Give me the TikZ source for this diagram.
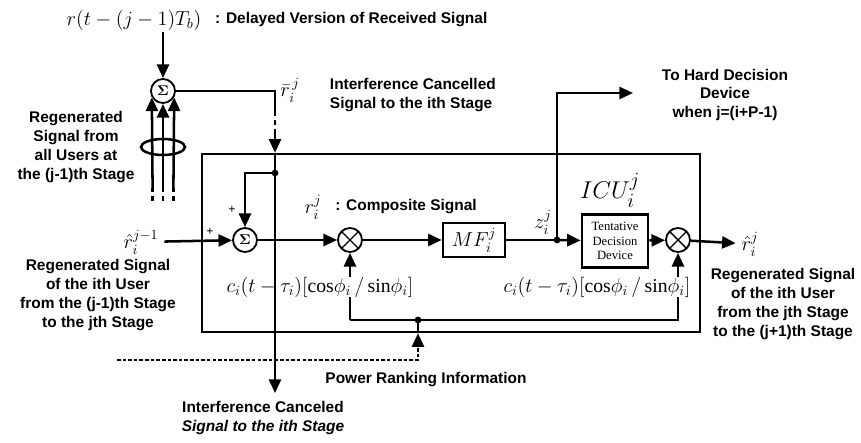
\documentclass[tikz,border=0pt]{standalone}
\usepackage{amsmath}
\usepackage{fontspec}
\setmainfont{Liberation Serif}
\setsansfont{Liberation Sans}
\usetikzlibrary{arrows.meta,positioning}

\begin{document}
\begin{tikzpicture}[>={Triangle[length=3.4mm,width=3mm]}, line width=1.8pt,
  every node/.style={font=\fontsize{14}{16}\selectfont},
  txt/.style={font=\sffamily\bfseries\fontsize{11}{13.5}\selectfont, align=center},
  sum/.style={circle,draw,line width=1.3pt,minimum size=6mm,inner sep=0pt,font=\normalsize},
  mult/.style={circle,draw,line width=1.3pt,minimum size=6mm,inner sep=0pt,
    path picture={\draw[line width=1pt] (path picture bounding box.north west)--(path picture bounding box.south east)
      (path picture bounding box.north east)--(path picture bounding box.south west);}},
  block/.style={draw,minimum width=15.5mm,minimum height=8.5mm,inner sep=1pt}]
\useasboundingbox (0,0) rectangle (21.525,11.05);

% the ICU frame
\node[draw,minimum width=12.45cm,minimum height=4.45cm,inner sep=0pt] (icu) at (11.275,4.975) {};

\node (rin) at (3.35,10.55) {$r(t-(j-1)T_b)$};
\node[txt,right=0.05cm of rin] (rinlab) {: Delayed Version of Received Signal};
\node[sum] (tsum) at (4.075,8.775) {$\boldsymbol{\Sigma}$};
\node (rbar) at (7.25,8.8) {$\bar{r}_i^{\,j}$};
\node[txt,align=left,anchor=west] (iclab) at (8.1,8.675) {Interference Cancelled\\Signal to the ith Stage};
\node[txt] (hdl) at (18.125,8.675) {To Hard Decision\\Device\\when j=(i+P-1)};
\node[txt] (rgall) at (1.9,7.375) {Regenerated\\Signal from\\all Users at\\the (j-1)th Stage};

\node (rhatin) at (3.525,5.0) {$\hat{r}_i^{j-1}$};
\node[sum] (msum) at (6.125,5.05) {$\boldsymbol{\Sigma}$};
\node[mult] (m1) at (8.75,5.05) {};
\node (rcomp) at (7.825,5.875) {$r_i^j$};
\node[txt,right=0.05cm of rcomp] (complab) {: Composite Signal};
\node[block] (mf) at (11.85,5.05) {$MF_i^j$};
\node (zlab) at (13.575,5.5) {$z_i^j$};
\node[font=\fontsize{19}{22}\selectfont] (icul) at (15.25,6.3) {$ICU_i^j$};
\node[block,minimum width=1.65cm,minimum height=1.325cm,align=center,font=\fontsize{9}{10.5}\selectfont] (tdd) at (15.375,5.025) {Tentative\\Decision\\Device};
\node[mult] (m2) at (16.95,5.05) {};
\node (rhatout) at (18.75,4.95) {$\hat{r}_i^{j}$};
\node[font=\small\bfseries] (pl1) at (5.25,5.25) {+};
\node[font=\small\bfseries] (pl2) at (5.8,5.8) {+};

\node[txt] (rgin) at (2.45,3.675) {Regenerated Signal\\of the ith User\\from the (j-1)th Stage\\to the jth Stage};
\node[txt] (rgout) at (19.575,3.45) {Regenerated Signal\\of the ith User\\from the jth Stage\\to the (j+1)th Stage};
\node[txt] (pri) at (10.65,1.55) {Power Ranking Information};
\node[txt] (icbot) at (6.575,0.6) {Interference Canceled\\\textit{Signal to the ith Stage}};

\coordinate (ra) at (4.075,10.25);
\coordinate (rbc) at (6.875,8.25);
\coordinate (rbd) at (6.875,7.725);
\coordinate (ja) at (6.875,6.725);
\coordinate (icout) at (6.875,1.225);
\coordinate (hd) at (13.925,5.05);
\coordinate (hdend) at (15.825,8.725);
\coordinate (fb) at (10.45,3.05);
\coordinate (pw) at (10.45,2.05);
\coordinate (pwa) at (10.45,2.4);
\coordinate (dl) at (2.925,2.05);

% regenerated signals of all users
\draw[->] (ra) -- (tsum);
\foreach \x/\a in {3.815/-150,4.075/-90,4.335/-30} {
  \draw[->] (\x,6.35) -- (tsum.\a);
  \draw[dashed] (\x,6.35) -- (\x,5.975);
}
\draw (4.075,7.375) ellipse [x radius=0.55,y radius=0.2];
\draw (tsum) -| (rbc);
\draw[dashed] (rbc) -- (rbd);
\draw[->] (rbd) -- (rbd |- icu.north);
\draw[->] (ja) -| (msum);
\fill (ja) circle (2.4pt);

% main signal path
\draw[->] (rhatin) -- (msum);
\draw[->] (msum) -- (m1);
\draw[->] (m1) -- (mf);
\draw (mf) -- (hd);
\draw[->] (hd) -- (tdd);
\draw[->] (tdd) -- (m2);
\draw[->] (m2) -- (rhatout);
\draw[->] (hd) |- (hdend);
\fill (hd) circle (2.4pt);

% spreading code feedback and power ranking
\draw[->] (m1 |- fb) -- (m1);
\draw[->] (m1 |- fb) -| (m2);
\fill (fb) circle (2.4pt);
\draw[dash pattern=on 2.5pt off 1.5pt] (dl) -- (pw) -- (pwa);
\draw[->] (pwa) -- (pwa |- icu.south);
\draw (pwa |- icu.south) -- (fb);
\node[fill=white,inner sep=0pt] (cl1) at (8.0,3.875) {$c_i(t-\tau_i)[\mathrm{cos}\phi_i\,/\,\mathrm{sin}\phi_i]$};
\node[fill=white,inner sep=0pt] (cl2) at (14.925,3.875) {$c_i(t-\tau_i)[\mathrm{cos}\phi_i\,/\,\mathrm{sin}\phi_i]$};

% interference cancelled output
\draw[->] (icu.north -| rbd) -- (icout);
\end{tikzpicture}
\end{document}
